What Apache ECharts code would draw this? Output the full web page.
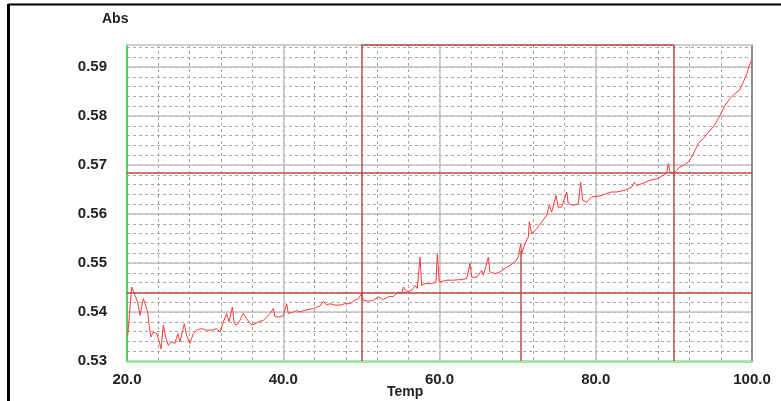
<!DOCTYPE html>
<html>
<head>
<meta charset="utf-8">
<script src="https://cdn.jsdelivr.net/npm/echarts@6/dist/echarts.min.js"></script>
<style>
  html, body { margin: 0; padding: 0; background: #fff; }
  #chart { width: 781px; height: 401px; }
</style>
</head>
<body>
<div id="chart"></div>
<script>
// temperature readings (x) and absorbance (y)
var temps = [
  20.09, 20.60, 20.68, 21.02, 21.37, 21.66, 22.09, 22.30, 22.65, 22.82,
  23.07, 23.37, 23.80, 24.01, 24.35, 24.65, 24.95, 25.29, 25.72, 26.14,
  26.49, 26.78, 27.33, 27.64, 28.06, 28.49, 28.92, 29.56, 30.20, 30.84,
  31.48, 31.90, 32.33, 32.76, 33.06, 33.48, 33.73, 34.04, 34.46, 34.89,
  35.32, 35.96, 36.38, 36.81, 37.45, 37.88, 38.30, 38.73, 38.94, 39.58,
  40.01, 40.44, 40.65, 41.29, 41.72, 42.14, 42.57, 43.21, 43.85, 44.28,
  44.70, 45.13, 45.56, 45.98, 46.62, 47.26, 47.90, 48.54, 49.18, 49.61,
  50.04, 50.25, 50.89, 51.53, 52.17, 52.81, 53.45, 54.09, 54.73, 55.16,
  55.37, 55.80, 56.44, 56.86, 57.16, 57.50, 57.72, 58.14, 58.57, 59.00,
  59.55, 59.72, 59.97, 60.92, 61.77, 62.62, 63.48, 63.90, 64.12, 64.76,
  65.40, 65.61, 66.25, 66.46, 67.10, 67.74, 68.38, 69.02, 69.66, 70.09,
  70.39, 70.52, 70.94, 71.37, 71.49, 71.80, 72.44, 73.08, 73.72, 74.05,
  74.36, 74.91, 75.21, 75.64, 76.28, 76.48, 77.12, 77.77, 78.07, 78.33,
  78.84, 79.48, 80.12, 80.76, 81.40, 82.04, 82.68, 83.32, 83.96, 84.60,
  84.93, 85.24, 86.08, 86.94, 87.80, 88.44, 89.08, 89.29, 89.50, 89.93,
  90.36, 90.78, 91.21, 91.85, 92.28, 92.70, 93.13, 93.77, 94.41, 95.05,
  95.69, 96.12, 96.54, 97.18, 97.82, 98.37, 98.88, 99.32, 99.65, 99.96
];
var absorb = [
  0.5352, 0.5451, 0.5453, 0.5434, 0.5420, 0.5393, 0.5427, 0.5417, 0.5400, 0.5373,
  0.5349, 0.5359, 0.5356, 0.5346, 0.5325, 0.5373, 0.5349, 0.5332, 0.5339, 0.5336,
  0.5356, 0.5339, 0.5376, 0.5352, 0.5336, 0.5356, 0.5363, 0.5366, 0.5363, 0.5363,
  0.5366, 0.5359, 0.5380, 0.5397, 0.5380, 0.5410, 0.5376, 0.5373, 0.5383, 0.5397,
  0.5386, 0.5373, 0.5376, 0.5380, 0.5383, 0.5390, 0.5397, 0.5407, 0.5390, 0.5390,
  0.5393, 0.5417, 0.5397, 0.5400, 0.5403, 0.5400, 0.5403, 0.5405, 0.5407, 0.5410,
  0.5412, 0.5422, 0.5414, 0.5417, 0.5414, 0.5414, 0.5417, 0.5417, 0.5424, 0.5427,
  0.5438, 0.5424, 0.5422, 0.5424, 0.5431, 0.5425, 0.5431, 0.5432, 0.5441, 0.5438,
  0.5451, 0.5441, 0.5444, 0.5454, 0.5448, 0.5512, 0.5454, 0.5458, 0.5458, 0.5458,
  0.5461, 0.5519, 0.5461, 0.5465, 0.5465, 0.5466, 0.5468, 0.5499, 0.5471, 0.5471,
  0.5485, 0.5475, 0.5512, 0.5482, 0.5478, 0.5482, 0.5489, 0.5495, 0.5502, 0.5512,
  0.5540, 0.5519, 0.5540, 0.5553, 0.5584, 0.5560, 0.5570, 0.5584, 0.5597, 0.5618,
  0.5604, 0.5638, 0.5614, 0.5614, 0.5645, 0.5621, 0.5618, 0.5621, 0.5665, 0.5628,
  0.5624, 0.5635, 0.5636, 0.5638, 0.5642, 0.5645, 0.5645, 0.5647, 0.5650, 0.5655,
  0.5665, 0.5658, 0.5663, 0.5669, 0.5672, 0.5677, 0.5684, 0.5703, 0.5686, 0.5682,
  0.5689, 0.5696, 0.5699, 0.5706, 0.5716, 0.5730, 0.5744, 0.5754, 0.5767, 0.5778,
  0.5795, 0.5808, 0.5822, 0.5836, 0.5846, 0.5852, 0.5869, 0.5886, 0.5903, 0.5914
];

// cursor box (temperature / absorbance) and the marker drop line
var cursorTemps = [50, 90];
var cursorAbs = [0.5440, 0.5684];
var dropTemp = 70.4;
var dropAbs = 0.5525;

var xMin = 20, xMax = 100;
var yMin = 0.53, yMax = 0.5945;

var cursorRed = '#bd4a4a';
var fontFam = '"Liberation Sans", Arial, sans-serif';

var chart = echarts.init(document.getElementById('chart'));

var markData = [
  { xAxis: cursorTemps[0] },
  { xAxis: cursorTemps[1] },
  { yAxis: cursorAbs[0] },
  { yAxis: cursorAbs[1] },
  [{ coord: [cursorTemps[0], yMax] }, { coord: [cursorTemps[1], yMax] }],
  [{ coord: [dropTemp, dropAbs] }, { coord: [dropTemp, yMin] }]
];

chart.setOption({
  animation: false,
  backgroundColor: '#fff',
  grid: { left: 127, right: 29, top: 45, bottom: 40 },
  xAxis: [
    {
      // minor dashed verticals, top border
      type: 'value', position: 'top', min: xMin, max: xMax, interval: 4,
      axisLine: { show: true, lineStyle: { color: '#cfcfcf', width: 1.5 } },
      axisTick: { show: false }, axisLabel: { show: false },
      splitLine: { show: true, lineStyle: { color: '#a8a8a8', width: 1, type: [3, 3] } }
    },
    {
      type: 'value', position: 'bottom', min: xMin, max: xMax, interval: 20, offset: 1,
      axisLine: { show: true, onZero: false, lineStyle: { color: '#90ee90', width: 2 } },
      axisTick: { show: false },
      axisLabel: {
        margin: 10, color: '#222', fontSize: 15, fontWeight: 'bold', fontFamily: fontFam,
        formatter: function (v) { return v.toFixed(1); }
      },
      splitLine: { show: true, lineStyle: { color: '#c2c2c2', width: 1.5 } }
    }
  ],
  yAxis: [
    {
      type: 'value', position: 'right', min: yMin, max: yMax, interval: 0.002,
      axisLine: { show: true, lineStyle: { color: '#8c8c8c', width: 2 } },
      axisTick: { show: false }, axisLabel: { show: false },
      splitLine: { show: true, lineStyle: { color: '#a8a8a8', width: 1, type: [3, 3] } }
    },
    {
      type: 'value', position: 'left', min: yMin, max: yMax, interval: 0.01,
      axisLine: { show: true, onZero: false, lineStyle: { color: '#5fcc5f', width: 2 } },
      axisTick: { show: false },
      axisLabel: {
        margin: 20, color: '#222', fontSize: 15, fontWeight: 'bold', fontFamily: fontFam,
        formatter: function (v) {
          var k = v * 100;
          return Math.abs(k - Math.round(k)) < 1e-6 ? v.toFixed(2) : '';
        }
      },
      splitLine: { show: true, lineStyle: { color: '#c2c2c2', width: 1.5 } }
    }
  ],
  series: [{
    type: 'line',
    xAxisIndex: 1,
    yAxisIndex: 1,
    data: temps.map(function (t, i) { return [t, absorb[i]]; }),
    showSymbol: false,
    lineStyle: { color: '#ff3838', width: 1 },
    markLine: {
      silent: true,
      precision: 4,
      symbol: ['none', 'none'],
      label: { show: false },
      lineStyle: { color: cursorRed, width: 1.5, type: 'solid' },
      data: markData
    }
  }],
  graphic: [
    { type: 'text', left: 102, top: 12, style: { text: 'Abs', fill: '#222', font: 'bold 14px ' + fontFam } },
    { type: 'text', left: 387, top: 385, style: { text: 'Temp', fill: '#222', font: 'bold 14px ' + fontFam } },
    { type: 'line', shape: { x1: 8, y1: 4.5, x2: 781, y2: 4.5 }, style: { stroke: '#000', lineWidth: 2 } },
    { type: 'line', shape: { x1: 8.5, y1: 4, x2: 8.5, y2: 401 }, style: { stroke: '#000', lineWidth: 3 } }
  ]
});
</script>
</body>
</html>
